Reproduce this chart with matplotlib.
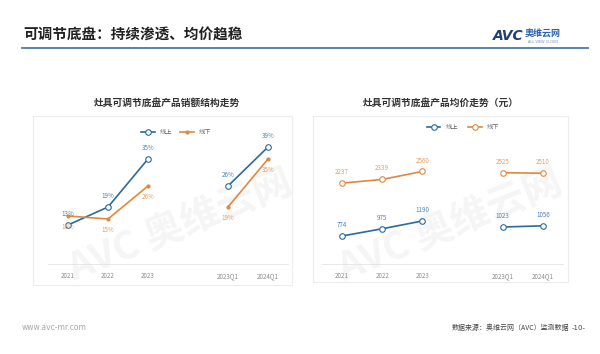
import matplotlib
matplotlib.use("Agg")
import matplotlib.pyplot as plt
from matplotlib.lines import Line2D
from matplotlib.patches import Rectangle

plt.rcParams['font.family'] = ['Noto Sans CJK SC', 'DejaVu Sans']

# dados
categorias = ['2021', '2022', '2023', '2023Q1', '2024Q1']
posicoes = [0, 1, 2, 4, 5]
share_online = [13, 19, 35, 26, 39]
share_offline = [16, 15, 26, 19, 35]
preco_online = [774, 975, 1190, 1023, 1056]
preco_offline = [2237, 2339, 2560, 2525, 2510]

AZUL = '#2b6a9b'
LARANJA = '#e0883f'
AZUL_TXT = '#4a86bd'
LARANJA_TXT = '#e3a060'
CINZA = '#8c8c8c'

W, H = 600, 354


def px_box(x0, y0, x1, y1):
    # converte caixa em pixels (origem no topo) pra fracao da figura
    return [x0 / W, 1 - y1 / H, (x1 - x0) / W, (y1 - y0) / H]


fig = plt.figure(figsize=(6, 3.54), dpi=100)
fig.patch.set_facecolor('white')

# marca d'agua bem clarinha, por baixo de tudo
for (wx, wy) in [(0.30, 0.36), (0.75, 0.36)]:
    fig.text(wx, wy, 'AVC 奥维云网', fontsize=28, color='#f5f5f5',
             rotation=22, ha='center', va='center', fontweight='bold', zorder=-5)

# cabecalho
fig.text(23 / W, 1 - 35 / H, '可调节底盘：持续渗透、均价趋稳', fontsize=10.5,
         fontweight='bold', color='#222222', ha='left', va='center')
fig.add_artist(Line2D([22 / W, 588 / W], [1 - 48 / H, 1 - 48 / H],
                      color='#4a7aa5', lw=1.3))
fig.text(493 / W, 1 - 36 / H, 'AVC', fontsize=10, fontweight='bold',
         fontstyle='italic', color='#1f3d7a', ha='left', va='center',
         family='DejaVu Sans')
fig.text(525 / W, 1 - 34 / H, '奥维云网', fontsize=6.5, fontweight='bold',
         color='#2a62b0', ha='left', va='center')
fig.text(543 / W, 1 - 42 / H, 'ALL VIEW CLOUD', fontsize=2.5,
         color='#6f8fbf', ha='center', va='center', family='DejaVu Sans')

# rodape
fig.text(22 / W, 1 - 328 / H, 'www.avc-mr.com', fontsize=5.5, color='#a8a8a8',
         ha='left', va='center', family='DejaVu Sans')
fig.text(569 / W, 1 - 328 / H, '数据来源：奥维云网（AVC）监测数据', fontsize=5,
         color='#444444', ha='right', va='center')
fig.text(586 / W, 1 - 328 / H, '-10-', fontsize=5, color='#444444',
         ha='right', va='center', family='DejaVu Sans')

# caixas dos paineis
for (x0, y0, x1, y1) in [(33, 116, 292, 285), (313, 116, 568, 282)]:
    fig.add_artist(Rectangle((x0 / W, 1 - y1 / H), (x1 - x0) / W, (y1 - y0) / H,
                             transform=fig.transFigure, fill=False,
                             edgecolor='#ececec', lw=0.8, zorder=-4))

# titulos dos graficos
fig.text(167 / W, 1 - 103 / H, '灶具可调节底盘产品销额结构走势', fontsize=7,
         fontweight='bold', color='#333333', ha='center', va='center')
fig.text(441 / W, 1 - 103 / H, '灶具可调节底盘产品均价走势（元）', fontsize=7,
         fontweight='bold', color='#333333', ha='center', va='center')


def prepara_eixo(ax, ymax):
    ax.set_xlim(-0.5, 5.5)
    ax.set_ylim(0, ymax)
    ax.set_xticks(posicoes)
    ax.set_xticklabels(categorias)
    ax.tick_params(axis='x', length=0, labelsize=4.5, colors=CINZA, pad=6)
    ax.set_yticks([])
    for lado in ['top', 'right', 'left']:
        ax.spines[lado].set_visible(False)
    ax.spines['bottom'].set_color('#e3e3e3')
    ax.spines['bottom'].set_linewidth(0.6)
    ax.patch.set_alpha(0)


def plota_serie(ax, valores, cor, marker_kw):
    # anual e trimestral ficam separados, sem ligar 2023 com 2023Q1
    for sl in (slice(0, 3), slice(3, 5)):
        ax.plot(posicoes[sl], valores[sl], color=cor, lw=1.2, zorder=3, **marker_kw)


aberto_azul = dict(marker='o', markersize=4, markerfacecolor='white',
                   markeredgecolor=AZUL, markeredgewidth=0.8)
aberto_lar = dict(marker='o', markersize=4, markerfacecolor='white',
                  markeredgecolor=LARANJA, markeredgewidth=0.8)
ponto_lar = dict(marker='o', markersize=2, markerfacecolor=LARANJA,
                 markeredgecolor=LARANJA)

# painel esquerdo: participacao
ax1 = fig.add_axes(px_box(48, 123, 288, 264))
prepara_eixo(ax1, 47)
plota_serie(ax1, share_online, AZUL, aberto_azul)
plota_serie(ax1, share_offline, LARANJA, ponto_lar)
for x, v in zip(posicoes, share_online):
    ax1.annotate(f'{v}%', (x, v), xytext=(0, 5), textcoords='offset points',
                 ha='center', va='bottom', fontsize=4.5, color=AZUL_TXT)
for x, v in zip(posicoes, share_offline):
    ax1.annotate(f'{v}%', (x, v), xytext=(0, -5), textcoords='offset points',
                 ha='center', va='top', fontsize=4.5, color=LARANJA_TXT)
h1 = [Line2D([], [], color=AZUL, lw=1.2, **aberto_azul),
      Line2D([], [], color=LARANJA, lw=1.2, **ponto_lar)]
ax1.legend(h1, ['线上', '线下'], loc='center', ncol=2, frameon=False,
           fontsize=4.5, handlelength=2.2, columnspacing=1.2,
           bbox_to_anchor=(176 / W, 1 - 132 / H), bbox_transform=fig.transFigure,
           labelcolor='#666666')

# painel direito: preco medio
ax2 = fig.add_axes(px_box(322, 123, 563, 264))
prepara_eixo(ax2, 3900)
plota_serie(ax2, preco_online, AZUL, aberto_azul)
plota_serie(ax2, preco_offline, LARANJA, aberto_lar)
for x, v in zip(posicoes, preco_online):
    ax2.annotate(f'{v}', (x, v), xytext=(0, 5), textcoords='offset points',
                 ha='center', va='bottom', fontsize=4.5, color=AZUL_TXT)
for x, v in zip(posicoes, preco_offline):
    ax2.annotate(f'{v}', (x, v), xytext=(0, 5), textcoords='offset points',
                 ha='center', va='bottom', fontsize=4.5, color=LARANJA_TXT)
h2 = [Line2D([], [], color=AZUL, lw=1.2, **aberto_azul),
      Line2D([], [], color=LARANJA, lw=1.2, **aberto_lar)]
ax2.legend(h2, ['线上', '线下'], loc='center', ncol=2, frameon=False,
           fontsize=4.5, handlelength=2.2, columnspacing=1.6,
           bbox_to_anchor=(463 / W, 1 - 127 / H), bbox_transform=fig.transFigure,
           labelcolor='#666666')

fig.savefig('out.png', dpi=100)
